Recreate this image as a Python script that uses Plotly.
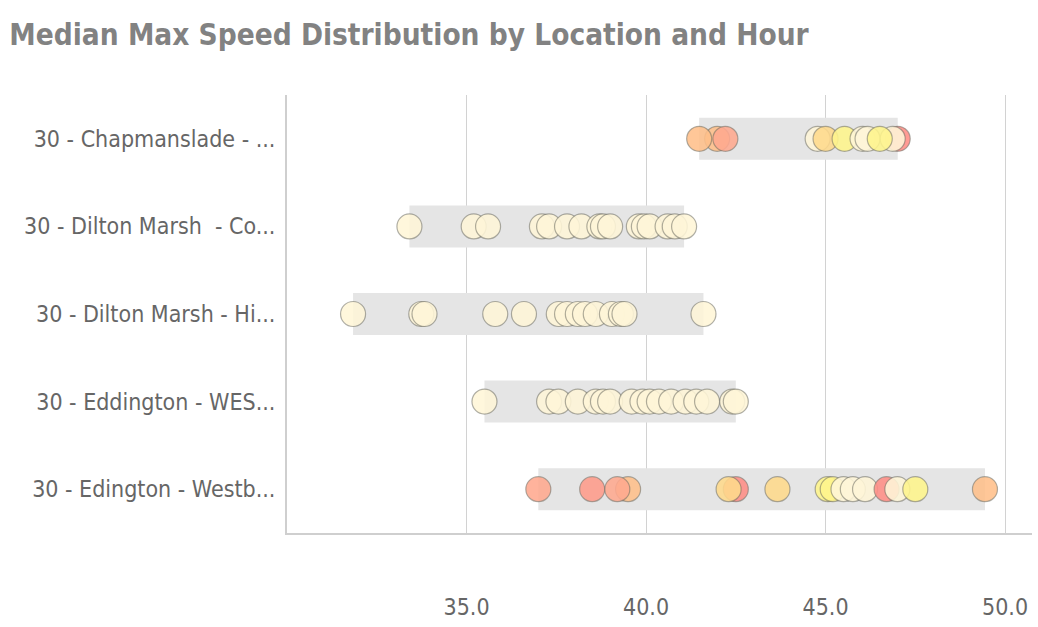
import plotly.graph_objects as go

# ---- data ----
locations = [
    "30 - Chapmanslade - ...",
    "30 - Dilton Marsh  - Co...",
    "30 - Dilton Marsh - Hi...",
    "30 - Eddington - WES...",
    "30 - Edington - Westb...",
]

chapmanslade_speed = [47.01, 41.98, 41.48, 42.21, 44.78, 45.0, 45.53, 46.03, 46.17, 46.87, 46.51]
chapmanslade_level = [5, 3, 3, 4, 0, 2, 1, 0, 0, 0, 1]

dilton_co_speed = [33.41, 35.2, 35.6, 37.1, 37.3, 37.8, 38.2, 38.7, 38.8, 39.0, 39.8, 39.94, 40.1, 40.6, 40.8, 41.06]
dilton_co_level = [0] * 16

dilton_hi_speed = [31.84, 33.74, 33.83, 35.8, 36.6, 37.57, 37.8, 38.1, 38.3, 38.6, 39.05, 39.3, 39.4, 41.6]
dilton_hi_level = [0] * 14

eddington_speed = [35.5, 37.3, 37.56, 38.1, 38.6, 38.8, 39.0, 39.6, 39.9, 40.1, 40.36, 40.7, 41.1, 41.4, 41.7, 42.4, 42.5]
eddington_level = [0] * 17

edington_speed = [37.0, 38.5, 39.5, 39.2, 42.5, 42.3, 43.66, 45.06, 45.2, 45.5, 45.76, 46.1, 46.7, 47.0, 47.5, 49.44]
edington_level = [4, 4.5, 3, 4, 5, 2, 2, 1, 1, 0, 0, 0, 5, 0, 1, 3]

x_ticks = [35, 40, 45, 50]
x_tick_labels = ["35.0", "40.0", "45.0", "50.0"]

series_speed = [chapmanslade_speed, dilton_co_speed, dilton_hi_speed, eddington_speed, edington_speed]
series_level = [chapmanslade_level, dilton_co_level, dilton_hi_level, eddington_level, edington_level]

# ---- styles ----
colorscale = [
    [0.0, "#FFF6D8"],
    [0.2, "#FFF58C"],
    [0.4, "#FFDA8C"],
    [0.6, "#FFC08A"],
    [0.8, "#FFA98F"],
    [1.0, "#FF8E86"],
]
font_family = "DejaVu Sans Condensed, Roboto, sans-serif"

fig = go.Figure()

mins = [min(s) for s in series_speed]
spans = [max(s) - min(s) for s in series_speed]
fig.add_trace(go.Bar(
    y=locations, x=spans, base=mins, orientation="h",
    width=0.48, marker=dict(color="#E5E5E5", line=dict(width=0)),
    hoverinfo="skip", showlegend=False,
))

for loc, sp, lv in zip(locations, series_speed, series_level):
    fig.add_trace(go.Scatter(
        x=sp, y=[loc] * len(sp), mode="markers",
        marker=dict(
            size=25, color=lv, colorscale=colorscale, cmin=0, cmax=5,
            opacity=0.88, line=dict(color="rgba(105,105,95,0.6)", width=1.2),
        ),
        showlegend=False,
    ))

fig.update_layout(
    width=1038, height=627,
    margin=dict(l=287, r=6, t=95, b=94, autoexpand=False),
    paper_bgcolor="white", plot_bgcolor="white",
    title=dict(
        text="<b>Median Max Speed Distribution by Location and Hour</b>",
        x=0.009, xanchor="left", y=0.944, yanchor="middle",
        font=dict(family=font_family, size=29.5, color="#828282"),
    ),
    xaxis=dict(
        range=[30, 50.75], tickvals=x_ticks, ticktext=x_tick_labels,
        showgrid=True, gridcolor="#D2D2D2", gridwidth=1.2,
        showline=True, linecolor="#CFCFCF", linewidth=2,
        zeroline=False, ticks="", ticklabelstandoff=52, automargin=False,
        tickfont=dict(family=font_family, size=23, color="#666666"),
    ),
    yaxis=dict(
        categoryorder="array", categoryarray=locations, autorange="reversed",
        showgrid=False, showline=True, linecolor="#CFCFCF", linewidth=2,
        ticks="", ticklabelstandoff=5, automargin=False,
        tickfont=dict(family=font_family, size=23, color="#666666"),
    ),
    bargap=0.5,
)

fig.write_html(
    "out.html",
    config={"displayModeBar": False},
    post_script="document.body.style.margin='0';document.body.style.overflow='hidden';",
)
